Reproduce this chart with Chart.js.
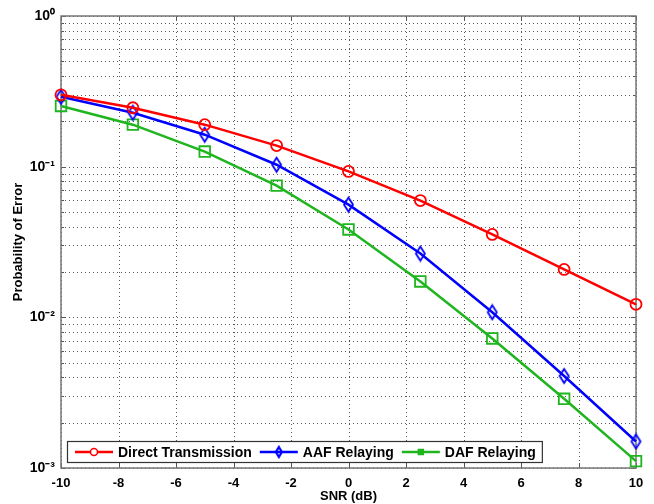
<!DOCTYPE html>
<html>
<head>
<meta charset="utf-8">
<script src="https://cdn.jsdelivr.net/npm/chart.js@4/dist/chart.umd.min.js"></script>
<style>
  html, body { margin: 0; padding: 0; background: #fff; }
  #wrap { width: 654px; height: 504px; }
</style>
</head>
<body>
<div id="wrap"><canvas id="berChart"></canvas></div>
<script>
// SNR points (dB) and error probabilities
const snrDb = [-10, -7.5, -5, -2.5, 0, 2.5, 5, 7.5, 10];
const directTx = [0.30, 0.246, 0.19, 0.138, 0.093, 0.0596, 0.0355, 0.0208, 0.0122];
const aafRelay = [0.291, 0.228, 0.163, 0.103, 0.056, 0.0265, 0.0108, 0.00408, 0.0015];
const dafRelay = [0.253, 0.19, 0.126, 0.0748, 0.0383, 0.0173, 0.00724, 0.00288, 0.00111];

const seriesNames = ['Direct Transmission', 'AAF Relaying', 'DAF Relaying'];
const xTickValues = [-10, -8, -6, -4, -2, 0, 2, 4, 6, 8, 10];
const yDecades = [1e-3, 1e-2, 1e-1, 1];
const yMinorSteps = [2, 3, 4, 5, 6, 7, 8, 9];

const FONT = '"Liberation Sans", Arial, Helvetica, sans-serif';
const SUP = { '0': '\u2070', '1': '\u00B9', '2': '\u00B2', '3': '\u00B3', '-': '\u207B' };

function toPoints(ys) {
    return snrDb.map((x, i) => ({ x: x, y: ys[i] }));
}

function decadeLabel(v) {
    const e = Math.round(Math.log10(v));
    return '10' + String(e).split('').map(c => SUP[c]).join('');
}

function buildYTicks() {
    const ticks = [];
    yDecades.forEach((d, i) => {
        ticks.push({ value: d, major: true });
        if (i < yDecades.length - 1) {
            yMinorSteps.forEach(m => ticks.push({ value: d * m, major: false }));
        }
    });
    return ticks;
}

// narrow MATLAB-like diamond marker
function diamondMarker(color, w, h, lw) {
    const c = document.createElement('canvas');
    c.width = w + 4;
    c.height = h + 4;
    const g = c.getContext('2d');
    const cx = c.width / 2, cy = c.height / 2;
    g.strokeStyle = color;
    g.lineWidth = lw;
    g.beginPath();
    g.moveTo(cx, cy - h / 2);
    g.lineTo(cx + w / 2, cy);
    g.lineTo(cx, cy + h / 2);
    g.lineTo(cx - w / 2, cy);
    g.closePath();
    g.stroke();
    return c;
}

// dotted grid under the data
const dottedGrid = {
    id: 'dottedGrid',
    beforeDatasetsDraw(chart) {
        const { ctx, chartArea: a, scales } = chart;
        ctx.save();
        ctx.strokeStyle = '#555';
        ctx.lineWidth = 1;
        ctx.setLineDash([1, 3]);
        ctx.beginPath();
        xTickValues.forEach(v => {
            const px = Math.round(scales.x.getPixelForValue(v)) + 0.5;
            ctx.moveTo(px, a.top); ctx.lineTo(px, a.bottom);
        });
        buildYTicks().forEach(t => {
            const py = Math.round(scales.y.getPixelForValue(t.value)) + 0.5;
            ctx.moveTo(a.left, py); ctx.lineTo(a.right, py);
        });
        ctx.stroke();
        ctx.restore();
    }
};

// frame box + inward ticks
const framePlugin = {
    id: 'frame',
    beforeDatasetsDraw(chart) {
        const { ctx, chartArea: a, scales } = chart;
        ctx.save();
        ctx.strokeStyle = '#555';
        ctx.lineWidth = 1;
        ctx.beginPath();
        xTickValues.forEach(v => {
            const px = Math.round(scales.x.getPixelForValue(v)) + 0.5;
            ctx.moveTo(px, a.bottom); ctx.lineTo(px, a.bottom - 5);
            ctx.moveTo(px, a.top); ctx.lineTo(px, a.top + 5);
        });
        buildYTicks().forEach(t => {
            const py = Math.round(scales.y.getPixelForValue(t.value)) + 0.5;
            const len = t.major ? 5 : 3;
            ctx.moveTo(a.left, py); ctx.lineTo(a.left + len, py);
            ctx.moveTo(a.right, py); ctx.lineTo(a.right - len, py);
        });
        ctx.stroke();
        ctx.strokeStyle = '#777';
        ctx.lineWidth = 1.5;
        ctx.strokeRect(a.left, a.top, a.right - a.left, a.bottom - a.top);
        ctx.restore();
    }
};

// legend drawn inside the axes, bottom-left
const insideLegend = {
    id: 'insideLegend',
    afterDraw(chart) {
        const { ctx, chartArea: a } = chart;
        const lineLen = 38, gap = 5, spacing = 8, pad = 8;
        ctx.save();
        ctx.font = 'bold 14px ' + FONT;
        const widths = chart.data.datasets.map(ds => ctx.measureText(ds.label).width);
        const boxW = pad + widths.reduce((s, w) => s + lineLen + gap + w + spacing, 0) - spacing + 6;
        const boxH = 21;
        const bx = a.left + 6, by = a.bottom - 6 - boxH;
        ctx.fillStyle = '#fff';
        ctx.fillRect(bx, by, boxW, boxH);
        ctx.strokeStyle = '#333';
        ctx.lineWidth = 1.2;
        ctx.strokeRect(bx + 0.5, by + 0.5, boxW, boxH);
        let cx = bx + pad;
        const cy = by + boxH / 2 + 0.5;
        chart.data.datasets.forEach((ds, i) => {
            ctx.strokeStyle = ds.borderColor;
            ctx.lineWidth = ds.borderWidth;
            ctx.beginPath();
            ctx.moveTo(cx, cy); ctx.lineTo(cx + lineLen, cy);
            ctx.stroke();
            ctx.fillStyle = ds.legendFill;
            ctx.lineWidth = 1.5;
            Chart.helpers.drawPoint(ctx, {
                pointStyle: ds.legendMarker,
                radius: 3.5,
                borderWidth: 1.5,
                rotation: 0
            }, cx + lineLen / 2, cy);
            ctx.fillStyle = '#000';
            ctx.textBaseline = 'middle';
            ctx.textAlign = 'left';
            ctx.fillText(ds.label, cx + lineLen + gap, cy + 1);
            cx += lineLen + gap + widths[i] + spacing;
        });
        ctx.restore();
    }
};

function makeDataset(label, ys, color, style, radius, legendMarker, legendFill) {
    return {
        label: label,
        data: toPoints(ys),
        borderColor: color,
        backgroundColor: 'rgba(255,255,255,0)',
        borderWidth: 2.5,
        pointStyle: style,
        pointRadius: radius,
        pointBorderWidth: 1.8,
        pointBackgroundColor: 'rgba(255,255,255,0)',
        pointBorderColor: color,
        legendMarker: legendMarker,
        legendFill: legendFill,
        clip: false,
        tension: 0
    };
}

const blueDiamond = diamondMarker('#0000ff', 9, 14, 1.8);
const blueDiamondSmall = diamondMarker('#0000ff', 6, 10, 2.2);

const ctx = document.getElementById('berChart').getContext('2d');
new Chart(ctx, {
    type: 'line',
    data: {
        datasets: [
            makeDataset(seriesNames[0], directTx, '#ff0000', 'circle', 5.5, 'circle', '#ffffff'),
            makeDataset(seriesNames[1], aafRelay, '#0000ff', blueDiamond, 7, blueDiamondSmall, '#0000ff'),
            makeDataset(seriesNames[2], dafRelay, '#1fb51f', 'rect', 7.5, 'rect', '#1fb51f')
        ]
    },
    options: {
        responsive: true,
        maintainAspectRatio: false,
        animation: false,
        layout: { padding: { top: 16, right: 18, left: 11, bottom: 0 } },
        plugins: {
            legend: { display: false },
            tooltip: { enabled: false }
        },
        scales: {
            x: {
                type: 'linear',
                min: -10,
                max: 10,
                afterBuildTicks: (scale) => {
                    scale.ticks = xTickValues.map(v => ({ value: v }));
                },
                afterFit: (scale) => { scale.height = 36; },
                grid: { display: false, drawTicks: false },
                border: { display: false },
                ticks: {
                    padding: 8,
                    color: '#000',
                    font: { family: FONT, size: 13, weight: 'bold' },
                    maxRotation: 0,
                    autoSkip: false
                },
                title: {
                    display: true,
                    text: 'SNR (dB)',
                    color: '#000',
                    padding: { top: 0, bottom: 0 },
                    font: { family: FONT, size: 13, weight: 'bold' }
                }
            },
            y: {
                type: 'logarithmic',
                min: 1e-3,
                max: 1,
                afterBuildTicks: (scale) => { scale.ticks = buildYTicks(); },
                afterFit: (scale) => { scale.width = 50; },
                grid: { display: false, drawTicks: false },
                border: { display: false },
                ticks: {
                    padding: 6,
                    color: '#000',
                    autoSkip: false,
                    font: { family: FONT, size: 14, weight: 'bold' },
                    callback: (v) => yDecades.some(d => Math.abs(d - v) < d * 1e-6) ? decadeLabel(v) : ''
                },
                title: {
                    display: true,
                    text: 'Probability of Error',
                    color: '#000',
                    padding: { top: 0, bottom: 0 },
                    font: { family: FONT, size: 13, weight: 'bold' }
                }
            }
        }
    },
    plugins: [dottedGrid, framePlugin, insideLegend]
});
</script>
</body>
</html>
